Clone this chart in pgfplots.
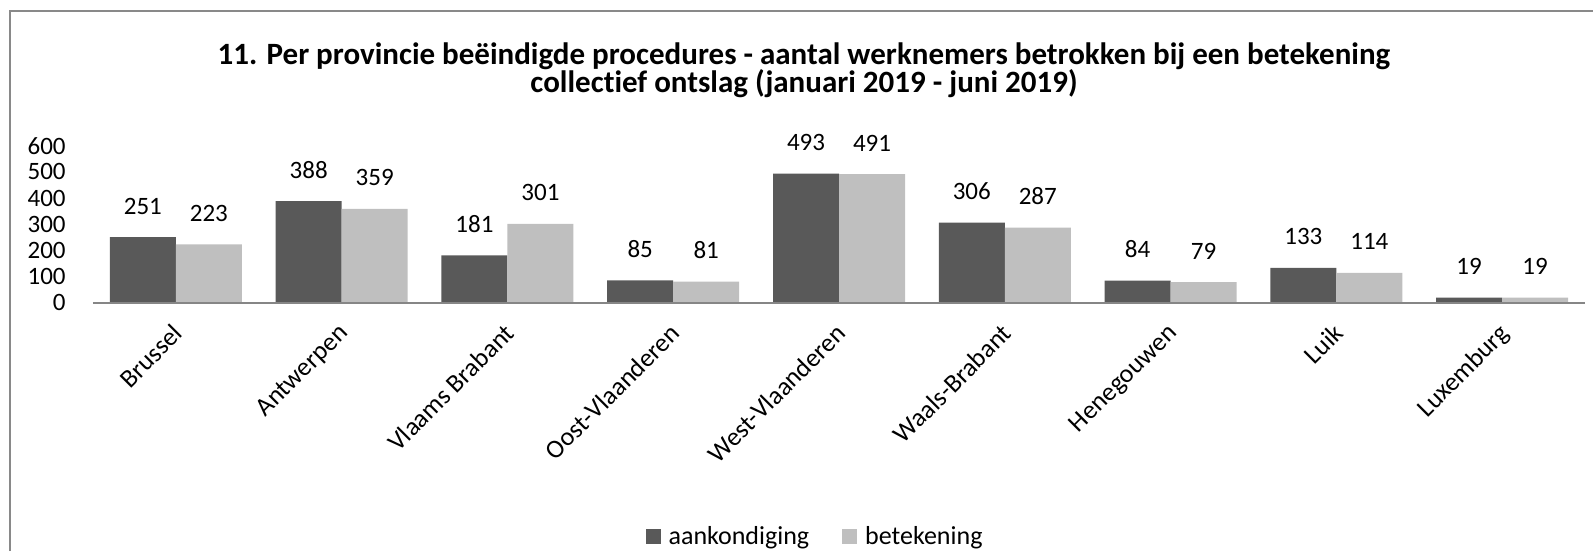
\documentclass[border=0pt]{standalone}
\usepackage{fontspec}
\setmainfont{Carlito}[Ligatures=NoCommon]
\usepackage{pgfplots}
\pgfplotsset{compat=1.18}
\definecolor{dark}{HTML}{595959}
\definecolor{light}{HTML}{BFBFBF}
\definecolor{axgray}{HTML}{868686}
\definecolor{bordergray}{HTML}{898989}
\begin{document}
\begin{tikzpicture}
\useasboundingbox (0pt,0pt) rectangle (796.5pt,-275.5pt);
\draw[bordergray, line width=1pt] (4.75pt,-275.5pt) -- (4.75pt,-5.75pt) -- (796.5pt,-5.75pt);
\node[anchor=base, inner sep=0pt, font=\fontsize{15.5}{18}\selectfont\bfseries] at (402pt,-32.5pt) {11. Per provincie beëindigde procedures - aantal werknemers betrokken bij een betekening};
\node[anchor=base, inner sep=0pt, font=\fontsize{15.5}{18}\selectfont\bfseries] at (402pt,-46.5pt) {collectief ontslag (januari 2019 - juni 2019)};
\begin{axis}[
  at={(46.5pt,-151.35pt)}, anchor=south west,
  scale only axis, width=746pt, height=78.5pt,
  ymin=0, ymax=600, xmin=-0.5, xmax=8.5,
  ybar=0pt, bar width=33pt,
  xtick={0,1,2,3,4,5,6,7,8},
  xticklabels={Brussel,Antwerpen,Vlaams Brabant,Oost-Vlaanderen,West-Vlaanderen,Waals-Brabant,Henegouwen,Luik,Luxemburg},
  ytick={0,100,...,600},
  axis x line*=bottom, axis y line*=left,
  y axis line style={draw=none},
  x axis line style={axgray, line width=1.1pt, -},
  major tick length=0pt,
  tick style={draw=none},
  yticklabel style={anchor=east, inner sep=0pt, xshift=-13.5pt, font=\fontsize{12.5}{14}\selectfont},
  xticklabel style={rotate=45, anchor=north east, inner sep=0pt, xshift=-8.4pt, yshift=-5.2pt, font=\fontsize{13}{15}\selectfont},
  /pgf/number format/assume math mode=true,
  nodes near coords,
  every node near coord/.append style={anchor=base, inner sep=0pt, yshift=11.5pt, font=\fontsize{12.5}{14}\selectfont, text=black},
  enlargelimits=false,
  clip=false,
  axis on top,
  legend style={at={(0.4846,-1.492)}, anchor=center, draw=none, fill=none, inner sep=0pt,
     legend columns=2, font=\fontsize{13}{15}\selectfont,
     /tikz/every even column/.append style={column sep=14.5pt}},
  legend cell align=left,
  legend image code/.code={\fill[#1] (0pt,-3.75pt) rectangle (7.5pt,3.75pt); \path (9.5pt,0pt);},
]
\addplot[fill=dark, draw=none] coordinates {(0,251)(1,388)(2,181)(3,85)(4,493)(5,306)(6,84)(7,133)(8,19)};
\addplot[fill=light, draw=none] coordinates {(0,223)(1,359)(2,301)(3,81)(4,491)(5,287)(6,79)(7,114)(8,19)};
\legend{aankondiging, betekening}
\end{axis}
\end{tikzpicture}
\end{document}
